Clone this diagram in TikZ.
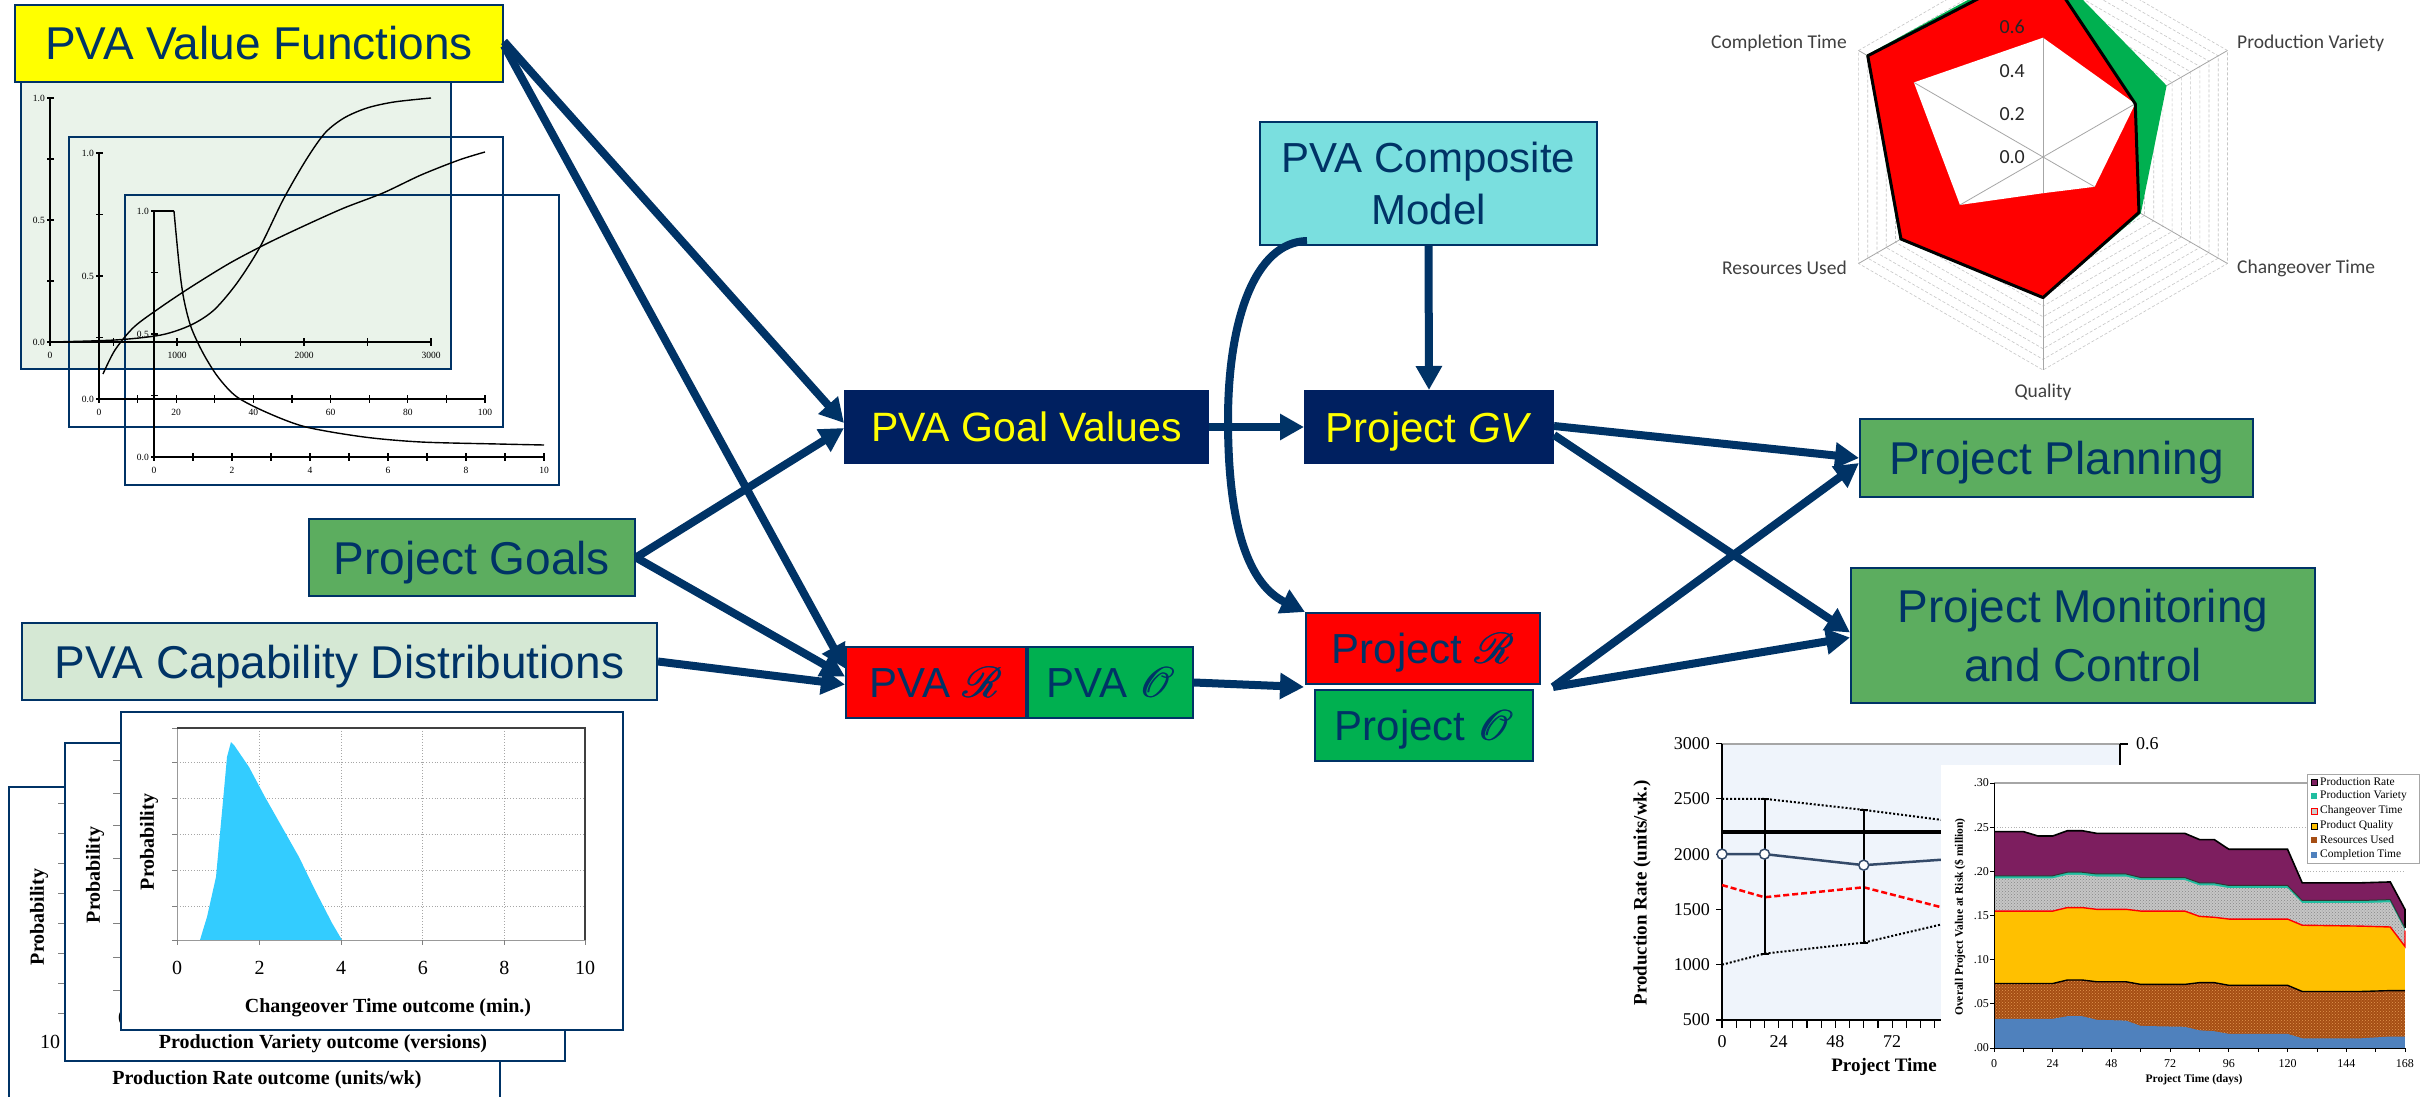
\documentclass[tikz,border=0pt]{standalone}
\usepackage{fontspec}
\setmainfont{Liberation Serif}
\newfontfamily\arialf{Liberation Sans}
\newfontfamily\calib{Carlito}
\usepackage{graphicx}
\usepackage{mathrsfs}
\usetikzlibrary{arrows.meta,calc,patterns}
\definecolor{navy}{RGB}{0,51,102}
\definecolor{boxnavy}{RGB}{0,32,96}
\definecolor{vfyellow}{RGB}{255,255,0}
\definecolor{midgreen}{RGB}{92,173,95}
\definecolor{lightgreen}{RGB}{213,232,212}
\definecolor{cyanbox}{RGB}{122,223,223}
\definecolor{rred}{RGB}{255,0,0}
\definecolor{ogreen}{RGB}{0,176,80}
\definecolor{panelgreen}{RGB}{234,243,234}
\definecolor{probblue}{RGB}{51,204,255}
\definecolor{plotbg}{RGB}{239,244,251}
\definecolor{linesblue}{RGB}{52,74,105}
\definecolor{purp}{RGB}{125,30,95}
\definecolor{pvteal}{RGB}{32,190,160}
\definecolor{qorange}{RGB}{255,192,0}
\definecolor{rbrown}{RGB}{165,78,20}
\definecolor{rdots}{RGB}{228,150,80}
\definecolor{cblue}{RGB}{79,129,189}
\definecolor{lblgray}{RGB}{64,64,64}
\newcommand{\myScrR}{{\fontsize{10}{12}\selectfont\rlap{\scalebox{4.3}{$\mathscr{R}$}}\kern0.9pt\scalebox{4.3}{$\mathscr{R}$}}}
\newcommand{\myScrO}{{\fontsize{10}{12}\selectfont\rlap{\scalebox{4.3}{$\mathscr{O}$}}\kern0.9pt\scalebox{4.3}{$\mathscr{O}$}}}
\tikzset{
  lbl/.style={draw=navy, line width=2pt, inner sep=0pt, align=center, text=navy},
  big/.style={font=\arialf\fontsize{46}{55}\selectfont, text height=33pt, text depth=0pt},
  mid/.style={font=\arialf\fontsize{42}{52}\selectfont, text height=30pt, text depth=0pt},
  arr/.style={draw=navy, line width=8pt, -{Triangle[length=24pt,width=25pt]}},
  panel/.style={draw=navy, line width=2.5pt},
  vfax/.style={line width=1.1pt},
  vfcurve/.style={line width=1.4pt},
  vft/.style={font=\fontsize{9.5}{11}\selectfont, inner sep=1pt},
  capt/.style={font=\fontsize{20}{24}\selectfont, inner sep=0pt},
  capb/.style={font=\bfseries\fontsize{20}{24}\selectfont, inner sep=0pt},
  capgrid/.style={gray!70, line width=0.8pt, dotted},
  radgrid/.style={gray!45, line width=0.6pt, dash pattern=on 3pt off 2pt},
  radaxis/.style={gray!70, line width=0.8pt},
  radlbl/.style={font=\calib\fontsize{19.5}{22}\selectfont, text=lblgray, inner sep=0pt},
  radtick/.style={font=\calib\fontsize{20}{24}\selectfont, text=black!85, inner sep=0pt},
  prt/.style={font=\fontsize{18}{21}\selectfont, inner sep=0pt},
  prb/.style={font=\bfseries\fontsize{19}{22}\selectfont, inner sep=0pt},
  fvt/.style={font=\fontsize{12}{14}\selectfont, inner sep=0pt},
  fvb/.style={font=\bfseries\fontsize{11.5}{14}\selectfont, inner sep=0pt},
  legt/.style={font=\fontsize{11.5}{13}\selectfont, inner sep=0pt, anchor=west}
}
\begin{document}
\begin{tikzpicture}[x=1pt,y=-1pt]
\useasboundingbox (0,0) rectangle (2420,1097);
\clip (0,0) rectangle (2420,1097);
\fill[white] (0,0) rectangle (2420,1097);

% ================= Value function panels =================
\fill[panelgreen] (21,75) rectangle (451,369);
\draw[panel] (21,75) rectangle (451,369);
\draw[panel] (69,137) rectangle (503,427);
\draw[panel] (125,195) rectangle (559,485);
% panel 1 axes
\draw[vfax] (50,342) -- (50,98);
\draw[vfax] (50,342) -- (431,342);
\foreach \yy in {98,159,220,281,342} \draw[vfax] (47,\yy) -- (54,\yy);
\foreach \k in {0,...,6} \draw[vfax] (50+63.5*\k,338) -- (50+63.5*\k,346);
\node[vft, anchor=east] (a1) at (46,98) {1.0};
\node[vft, anchor=east] (a2) at (46,220) {0.5};
\node[vft, anchor=east] (a3) at (46,342) {0.0};
\node[vft] (a4) at (50,355) {0};
\node[vft] (a5) at (177,355) {1000};
\node[vft] (a6) at (304,355) {2000};
\node[vft] (a7) at (431,355) {3000};
% panel 2 axes
\draw[vfax] (99,399) -- (99,153);
\draw[vfax] (99,399) -- (485,399);
\foreach \yy in {153,214.5,276,337.5,399} \draw[vfax] (96,\yy) -- (103,\yy);
\foreach \k in {0,...,10} \draw[vfax] (99+38.6*\k,395) -- (99+38.6*\k,403);
\node[vft, anchor=east] (b1) at (95,153) {1.0};
\node[vft, anchor=east] (b2) at (95,276) {0.5};
\node[vft, anchor=east] (b3) at (95,399) {0.0};
\foreach \k/\t in {0/0,2/20,4/40,6/60,8/80,10/100} \node[vft] (bx\k) at (99+38.6*\k,412) {\t};
% panel 3 axes
\draw[vfax] (154,457) -- (154,211);
\draw[vfax] (154,457) -- (544,457);
\foreach \yy in {211,272.5,334,395.5,457} \draw[vfax] (151,\yy) -- (158,\yy);
\foreach \k in {0,...,10} \draw[vfax] (154+39*\k,453) -- (154+39*\k,461);
\node[vft, anchor=east] (c1) at (150,211) {1.0};
\node[vft, anchor=east] (c2) at (150,334) {0.5};
\node[vft, anchor=east] (c3) at (150,457) {0.0};
\foreach \k/\t in {0/0,2/2,4/4,6/6,8/8,10/10} \node[vft] (cx\k) at (154+39*\k,470) {\t};
% curves
\draw[vfcurve] plot[smooth] coordinates {(50,342) (115,340) (161,335) (191,325) (214,310) (237,283) (260,247) (283,200) (306,160) (325,133) (344,118) (367,108) (394,102) (431,98)};
\draw[vfcurve] plot[smooth] coordinates {(103,374) (115,350) (134,327) (161,307) (191,287) (230,263) (268,243) (306,225) (344,208) (383,193) (421,175) (459,160) (485,152)};
\draw[vfcurve] (154,211) -- (174,211);
\draw[vfcurve] plot[smooth] coordinates {(174,211) (176,233) (180,273) (184,300) (191,327) (203,353) (218,377) (237,397) (268,413) (306,427) (364,437) (421,442) (498,444) (544,445)};

% ================= Capability panels =================
% back panel
\filldraw[panel, fill=white] (9,787) rectangle (500,1110);
\node[capb, rotate=90] (p1) at (39,917) {Probability};
\foreach \yy in {803,833,863,893,923,953,983,1013} \draw[gray, line width=0.8pt] (58,\yy) -- (64,\yy);
\node[capt] (p1n) at (50,1042) {10};
\node[capb] (p1x) at (267,1080) {Production Rate outcome (units/wk)};
% middle panel
\filldraw[panel, fill=white] (65,743) rectangle (565,1061);
\node[capb, rotate=90] (p2) at (95,875) {Probability};
\foreach \yy in {760,793,825,858,890,923,957,990} \draw[gray, line width=0.8pt] (113,\yy) -- (120,\yy);
\node[capt] (p2n) at (123,1018) {0};
\node[capb] (p2x) at (323,1044) {Production Variety outcome (versions)};
% front panel
\filldraw[panel, fill=white] (121,712) rectangle (623,1030);
\foreach \xx in {259.6,341.2,422.8,504.4} \draw[capgrid] (\xx,728) -- (\xx,940);
\foreach \yy in {762,798,834,870,906} \draw[capgrid] (177,\yy) -- (585,\yy);
\fill[probblue] (200,940) -- (203,930) -- (207,917) -- (216,877) -- (224,790) -- (227,757) -- (231,742) -- (234,745) -- (249,767) -- (265,797) -- (282,827) -- (299,857) -- (315,890) -- (332,923) -- (342,940) -- cycle;
\draw[gray!80, line width=1pt] (177,728) -- (177,940) -- (585,940);
\draw[black!75, line width=1.2pt] (177,728) -- (585,728) -- (585,940);
\foreach \yy in {728,762,798,834,870,906,940} \draw[gray, line width=0.8pt] (172,\yy) -- (177,\yy);
\foreach \xx in {177,259.6,341.2,422.8,504.4,585} \draw[gray, line width=0.8pt] (\xx,940) -- (\xx,945);
\foreach \xx/\t in {177/0,259.6/2,341.2/4,422.8/6,504.4/8,585/10} \node[capt] (fx\t) at (\xx,968) {\t};
\node[capb] (p3x) at (388,1008) {Changeover Time outcome (min.)};
\node[capb, rotate=90] (p3) at (149,842) {Probability};

% ================= Radar chart =================
\begin{scope}[shift={(2043,157)}, yscale=-1]
  \foreach \k in {1,...,20}{
    \pgfmathsetmacro{\rr}{\k*213/20}
    \draw[radgrid] (90:\rr) -- (30:\rr) -- (-30:\rr) -- (-90:\rr) -- (-150:\rr) -- (150:\rr) -- cycle;
  }
  \foreach \a in {90,30,-30,-90,-150,150} \draw[radaxis] (0,0) -- (\a:213);
  \fill[ogreen] (90:198) -- (30:142.7) -- (-30:112.9) -- (-90:141.5) -- (-150:165.5) -- (150:203.8) -- cycle;
  \fill[rred] (90:191.7) -- (30:106.5) -- (-30:110.8) -- (-90:140.6) -- (-150:164) -- (150:202.4) -- cycle;
  \fill[white] (90:119.3) -- (30:106.5) -- (-30:59.6) -- (-90:36.2) -- (-150:95.9) -- (150:149.1) -- cycle;
  \begin{scope}
    \clip (90:119.3) -- (30:106.5) -- (-30:59.6) -- (-90:36.2) -- (-150:95.9) -- (150:149.1) -- cycle;
    \foreach \a in {90,30,-30,-90,-150,150} \draw[radaxis] (0,0) -- (\a:213);
  \end{scope}
  \draw[line width=3pt, line join=round] (90:191.7) -- (30:106.5) -- (-30:110.8) -- (-90:140.6) -- (-150:164) -- (150:202.4) -- cycle;
\end{scope}
\node[radlbl, anchor=east] (rct) at (1847,43) {Completion Time};
\node[radlbl, anchor=west] (rpv) at (2237,43) {Production Variety};
\node[radlbl, anchor=west] (rco) at (2237,268) {Changeover Time};
\node[radlbl, anchor=east] (rru) at (1847,268) {Resources Used};
\node[radlbl] (rq) at (2043,392) {Quality};
\node[radtick, anchor=east] (r0) at (2025,157) {0.0};
\node[radtick, anchor=east] (r2) at (2025,114) {0.2};
\node[radtick, anchor=east] (r4) at (2025,71) {0.4};
\node[radtick, anchor=east] (r6) at (2025,27) {0.6};

% ================= Production rate chart (back) =================
\fill[plotbg] (1722,744) rectangle (2120,1020);
\draw[gray!70, line width=2.5pt] (1722,744) -- (2120,744);
\draw[line width=1.5pt] (1722,744) -- (1722,1020) -- (2120,1020);
\draw[line width=1.5pt] (2120,744) -- (2120,900);
\draw[line width=1.5pt] (2120,744) -- (2128,744);
\node[prt, anchor=west] (q06) at (2136,744) {0.6};
\foreach \v in {500,1000,...,3000}{
  \draw[line width=1.2pt] (1716,{1075.3-0.1106*\v}) -- (1722,{1075.3-0.1106*\v});
  \node[prt, anchor=east] (qy\v) at (1710,{1075.3-0.1106*\v}) {\v};
}
\foreach \k in {0,...,15} \draw[line width=1.2pt] (1722+14.175*\k,1020) -- (1722+14.175*\k,1028);
\foreach \d in {0,24,48,72} \node[prt] (qx\d) at (1722+2.3625*\d,1042) {\d};
\node[prb] (qxt) at (1884,1067) {Project Time};
\node[prb, rotate=90] (qyt) at (1642,893) {Production Rate (units/wk.)};
\begin{scope}[shift={(1722,1075.3)}, x=2.3625pt, y=0.1106pt]
  \draw[line width=3.5pt] (0,2200) -- (100,2200);
  \draw[line width=2pt, dotted] (0,2500) -- (18,2500) -- (60,2400) -- (100,2290);
  \draw[line width=2pt, dotted] (0,1000) -- (18,1100) -- (60,1200) -- (100,1400);
  \draw[rred, line width=2.5pt, dash pattern=on 6pt off 3pt] (0,1720) -- (18,1610) -- (60,1700) -- (100,1480);
  \draw[line width=2pt] (18,1100) -- (18,2500) (60,1200) -- (60,2400);
  \draw[line width=2pt] ([xshift=-4pt]18,1100) -- ([xshift=4pt]18,1100) ([xshift=-4pt]18,2500) -- ([xshift=4pt]18,2500);
  \draw[line width=2pt] ([xshift=-4pt]60,1200) -- ([xshift=4pt]60,1200) ([xshift=-4pt]60,2400) -- ([xshift=4pt]60,2400);
  \draw[linesblue, line width=2.5pt] (0,2000) -- (18,2000) -- (60,1900) -- (100,1960);
  \node[circle, draw=linesblue, fill=white, line width=1.5pt, inner sep=0pt, minimum size=10pt] (mk1) at (0,2000) {};
  \node[circle, draw=linesblue, fill=white, line width=1.5pt, inner sep=0pt, minimum size=10pt] (mk2) at (18,2000) {};
  \node[circle, draw=linesblue, fill=white, line width=1.5pt, inner sep=0pt, minimum size=10pt] (mk3) at (60,1900) {};
\end{scope}

% ================= Value at risk chart (front) =================
\fill[white] (1941,765) rectangle (2420,1097);
\begin{scope}[shift={(1994,1048)}, x=2.446pt, y=883.3pt]
  \draw[gray!60, line width=0.8pt, dotted] (0,.25) -- (168,.25) (0,.20) -- (168,.20);
  \draw[gray!70, line width=1.2pt] (0,.30) -- (130,.30);
  \fill[purp] (0,0) -- plot coordinates {(0,.245)(12,.245)(18,.240)(24,.240)(30,.246)(36,.246)(42,.243)(78,.243)(84,.236)(90,.236)(96,.225)(120,.225)(126,.187)(150,.187)(162,.188)(168,.157)} -- (168,0) -- cycle;
  \fill[pvteal] (0,0) -- plot coordinates {(0,.195)(24,.195)(30,.199)(36,.199)(42,.197)(54,.197)(60,.193)(78,.193)(84,.187)(90,.187)(96,.184)(120,.184)(126,.167)(150,.167)(162,.168)(168,.136)} -- (168,0) -- cycle;
  \fill[gray!45] (0,0) -- plot coordinates {(0,.192)(24,.192)(30,.196)(36,.196)(42,.194)(54,.194)(60,.190)(78,.190)(84,.184)(90,.184)(96,.181)(120,.181)(126,.164)(150,.164)(162,.165)(168,.133)} -- (168,0) -- cycle;
  \fill[pattern=crosshatch dots, pattern color=gray!95] (0,0) -- plot coordinates {(0,.192)(24,.192)(30,.196)(36,.196)(42,.194)(54,.194)(60,.190)(78,.190)(84,.184)(90,.184)(96,.181)(120,.181)(126,.164)(150,.164)(162,.165)(168,.133)} -- (168,0) -- cycle;
  \fill[qorange] (0,0) -- plot coordinates {(0,.155)(24,.155)(30,.159)(36,.159)(42,.157)(54,.157)(60,.155)(78,.155)(84,.149)(90,.148)(96,.146)(120,.146)(126,.139)(150,.138)(162,.137)(168,.115)} -- (168,0) -- cycle;
  \fill[rbrown] (0,0) -- plot coordinates {(0,.073)(24,.073)(30,.077)(36,.077)(42,.075)(54,.075)(60,.072)(78,.072)(84,.074)(90,.074)(96,.071)(120,.071)(126,.064)(150,.064)(162,.065)(168,.065)} -- (168,0) -- cycle;
  \fill[pattern=crosshatch dots, pattern color=rdots] (0,0) -- plot coordinates {(0,.073)(24,.073)(30,.077)(36,.077)(42,.075)(54,.075)(60,.072)(78,.072)(84,.074)(90,.074)(96,.071)(120,.071)(126,.064)(150,.064)(162,.065)(168,.065)} -- (168,0) -- cycle;
  \fill[cblue] (0,0) -- plot coordinates {(0,.033)(24,.033)(30,.036)(36,.036)(42,.032)(54,.031)(60,.025)(78,.024)(84,.020)(90,.019)(96,.016)(120,.016)(126,.011)(150,.011)(162,.013)(168,.013)} -- (168,0) -- cycle;
  \draw[line width=1.6pt] plot coordinates {(0,.245)(12,.245)(18,.240)(24,.240)(30,.246)(36,.246)(42,.243)(78,.243)(84,.236)(90,.236)(96,.225)(120,.225)(126,.187)(150,.187)(162,.188)(168,.157)} -- (168,.136);
  \draw[black!80, line width=1pt] plot coordinates {(0,.195)(24,.195)(30,.199)(36,.199)(42,.197)(54,.197)(60,.193)(78,.193)(84,.187)(90,.187)(96,.184)(120,.184)(126,.167)(150,.167)(162,.168)(168,.136)};
  \draw[rred, line width=1.4pt] plot coordinates {(0,.155)(24,.155)(30,.159)(36,.159)(42,.157)(54,.157)(60,.155)(78,.155)(84,.149)(90,.148)(96,.146)(120,.146)(126,.139)(150,.138)(162,.137)(168,.115)} -- (168,.133);
  \draw[line width=1.4pt] plot coordinates {(0,.073)(24,.073)(30,.077)(36,.077)(42,.075)(54,.075)(60,.072)(78,.072)(84,.074)(90,.074)(96,.071)(120,.071)(126,.064)(150,.064)(162,.065)(168,.065)};
  \draw[line width=1pt] (0,.30) -- (0,0) -- (168,0);
  \foreach \v in {0,.05,.10,.15,.20,.25,.30} \draw[line width=0.8pt] ([xshift=-4pt]0,\v) -- (0,\v);
  \foreach \d in {0,12,...,168} \draw[line width=0.8pt] (\d,0) -- ([yshift=-4pt]\d,0);
\end{scope}
\foreach \v/\t in {0/.00,1/.05,2/.10,3/.15,4/.20,5/.25,6/.30} \node[fvt, anchor=east] (vy\v) at (1989,{1048-44.165*\v}) {\t};
\foreach \d in {0,24,48,72,96,120,144,168} \node[fvt] (vx\d) at (1994+2.446*\d,1064) {\d};
\node[fvb] (vxt) at (2194,1080) {Project Time (days)};
\node[fvb, rotate=90] (vyt) at (1960,917) {Overall Project Value at Risk (\$ million)};
% legend
\filldraw[draw=gray!70, line width=1pt, fill=white] (2307,774) rectangle (2419,863);
\fill[purp, draw=black] (2311,779) rectangle (2317,785);
\fill[pvteal] (2311,793) rectangle (2317,799);
\filldraw[fill=gray!40, draw=rred, line width=0.8pt] (2311,808) rectangle (2317,814);
\filldraw[fill=qorange, draw=black, line width=0.8pt] (2311,823) rectangle (2317,829);
\fill[rbrown] (2311,837) rectangle (2317,843);
\fill[cblue] (2311,852) rectangle (2317,858);
\node[legt] (l1) at (2320,782) {Production Rate};
\node[legt] (l2) at (2320,796) {Production Variety};
\node[legt] (l3) at (2320,811) {Changeover Time};
\node[legt] (l4) at (2320,826) {Product Quality};
\node[legt] (l5) at (2320,840) {Resources Used};
\node[legt] (l6) at (2320,855) {Completion Time};

% ================= Main nodes =================
\node[lbl, big, fill=vfyellow, minimum width=488pt, minimum height=77pt] (vf) at (259,43.5) {PVA Value Functions};
\node[lbl, big, fill=midgreen, minimum width=326pt, minimum height=77pt] (goals) at (472,557.5) {Project Goals};
\node[lbl, big, fill=lightgreen, minimum width=635pt, minimum height=77pt] (capab) at (339.5,661.5) {PVA Capability Distributions};
\node[lbl, font=\arialf\fontsize{41}{50}\selectfont, text height=29.5pt, text depth=0pt, fill=boxnavy, draw=boxnavy, text=vfyellow, minimum width=363pt, minimum height=72pt] (goalv) at (1026.5,427) {PVA Goal Values};
\node[lbl, mid, fill=boxnavy, draw=boxnavy, text=vfyellow, minimum width=248pt, minimum height=72pt] (gv) at (1429,427) {Project \textit{GV}};
\node[lbl, font=\arialf\fontsize{42}{52}\selectfont, fill=cyanbox, minimum width=337pt, minimum height=123pt] (comp) at (1428.5,183.5) {PVA Composite\\Model};
\node[lbl, mid, fill=rred, minimum width=180pt, minimum height=71pt] (pvar) at (936,682.5) {PVA \myScrR};
\node[lbl, mid, fill=ogreen, minimum width=165pt, minimum height=71pt] (pvao) at (1110.5,682.5) {PVA \myScrO};
\node[lbl, mid, fill=rred, minimum width=234pt, minimum height=71pt] (projr) at (1423,648.5) {Project \myScrR};
\node[lbl, mid, fill=ogreen, minimum width=218pt, minimum height=71pt] (projo) at (1424,725.5) {Project \myScrO};
\node[lbl, big, fill=midgreen, minimum width=393pt, minimum height=78pt] (plan) at (2056.5,458) {Project Planning};
\node[lbl, font=\arialf\fontsize{46}{59}\selectfont, fill=midgreen, minimum width=464pt, minimum height=135pt] (mon) at (2083,635.5) {Project Monitoring\\and Control};

% ================= Connectors =================
\draw[arr] ($(vf.east)+(0,-2)$) -- ($(goalv.west)+(0,-4)$);
\draw[arr] ($(vf.east)+(0,2)$) -- ($(pvar.west)+(0,-14)$);
\draw[arr] (goals.east) -- ($(goalv.west)+(0,1)$);
\draw[arr] (goals.east) -- ($(pvar.west)+(0,-6)$);
\draw[arr] (capab.east) -- ($(pvar.west)+(0,2)$);
\draw[arr] (goalv.east) -- (gv.west);
\draw[arr] (comp.south) -- (gv.north);
\draw[arr] ($(comp.south west)+(48,-5)$) .. controls (1255,242) and (1228,320) .. (1228,420) .. controls (1228,530) and (1250,585) .. (projr.north west);
\draw[arr] (pvao.east) -- ($(projr.south west)+(-1,2)$);
\draw[arr] ($(gv.east)+(0,-1)$) -- (plan.west);
\draw[arr] ($(gv.east)+(0,8)$) -- ($(mon.west)+(0,-3)$);
\draw[arr] ($(projr.south east)+(12,2)$) -- ($(plan.west)+(0,5)$);
\draw[arr] ($(projr.south east)+(12,2)$) -- ($(mon.west)+(0,2)$);
\end{tikzpicture}
\end{document}
